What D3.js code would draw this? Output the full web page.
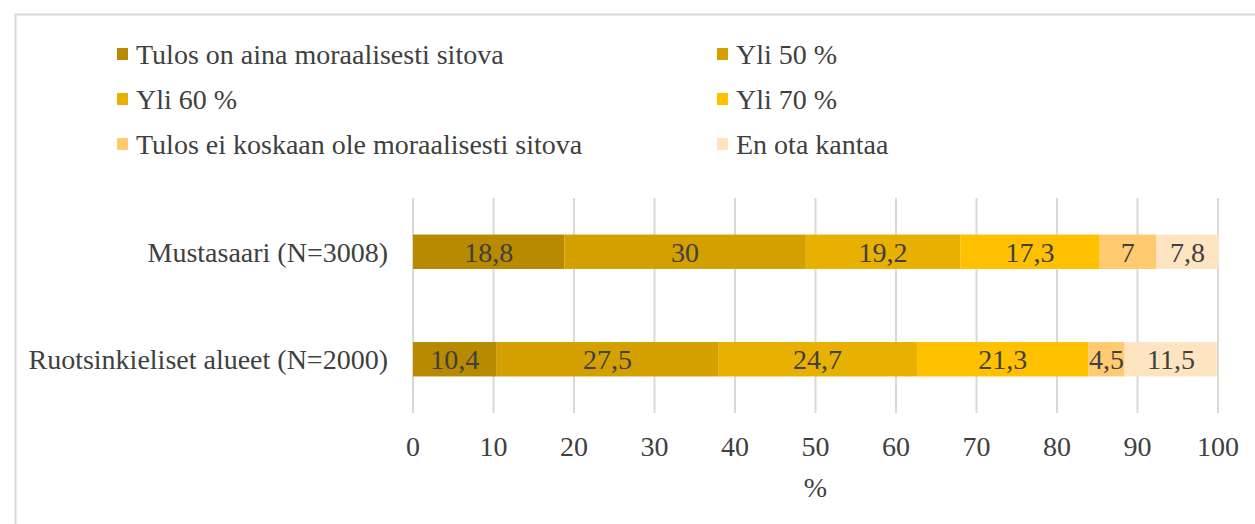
<!DOCTYPE html>
<html>
<head>
<meta charset="utf-8">
<script src="https://cdn.jsdelivr.net/npm/d3@7"></script>
<style>
  body { margin: 0; background: #fff; }
</style>
</head>
<body>
<svg class="chart"></svg>
<script>
/*Chart data*/
const categories = ["Mustasaari (N=3008)", "Ruotsinkieliset alueet (N=2000)"]
const seriesNames = [
  "Tulos on aina moraalisesti sitova", "Yli 50 %",
  "Yli 60 %", "Yli 70 %",
  "Tulos ei koskaan ole moraalisesti sitova", "En ota kantaa"
]
const mustasaari = [18.8, 30, 19.2, 17.3, 7, 7.8]
const ruotsinkieliset = [10.4, 27.5, 24.7, 21.3, 4.5, 11.5]
const xTicks = [0, 10, 20, 30, 40, 50, 60, 70, 80, 90, 100]
const colors = ["#B88A00", "#D4A000", "#E8B000", "#FFC000", "#FFCA70", "#FFE4C1"]

const width = 1255, height = 524
const fontSize = "28px"
const rows = [mustasaari, ruotsinkieliset]

var chart = d3.select(".chart")
    .attr("width", width)
    .attr("height", height)
    .attr("font-family", "'Liberation Serif', 'Times New Roman', Times, 'DejaVu Serif', serif")

/*Outer frame of the chart area*/
chart.append("rect")
    .attr("x", 15.5).attr("y", 14.5)
    .attr("width", width + 10).attr("height", height + 10)
    .attr("fill", "none")
    .attr("stroke", "#d9d9d9")
    .attr("stroke-width", 2)

var x = d3.scaleLinear().domain([0, 100]).range([413, 1218])
var y = d3.scaleBand().domain(categories).range([198, 413]).paddingInner(0.68).paddingOuter(0.34)

/*Gridlines*/
chart.append("g")
  .selectAll("line")
  .data(xTicks)
  .enter()
  .append("line")
    .attr("x1", d => x(d)).attr("x2", d => x(d))
    .attr("y1", 198).attr("y2", 413)
    .attr("stroke", "#d9d9d9")
    .attr("stroke-width", 2)

/*Stacked bars*/
rows.forEach((vals, i) => {
  var cum = 0
  var segs = vals.map((v, j) => {
    var s = { key: j, start: cum, value: v }
    cum += v
    return s
  })
  var g = chart.append("g")
  g.selectAll("rect")
    .data(segs)
    .enter()
    .append("rect")
      .attr("x", d => x(d.start))
      .attr("width", d => x(d.start + d.value) - x(d.start))
      .attr("y", y(categories[i]))
      .attr("height", y.bandwidth())
      .attr("fill", d => colors[d.key])
  g.selectAll("text")
    .data(segs)
    .enter()
    .append("text")
      .attr("x", d => x(d.start + d.value / 2))
      .attr("y", y(categories[i]) + y.bandwidth() / 2)
      .attr("dy", "0.35em")
      .attr("text-anchor", "middle")
      .attr("fill", "#404040")
      .style("font-size", fontSize)
      .text(d => String(d.value).replace(".", ","))
})

/*Category labels*/
chart.append("g")
  .selectAll("text")
  .data(categories)
  .enter()
  .append("text")
    .attr("x", 388)
    .attr("y", d => y(d) + y.bandwidth() / 2)
    .attr("dy", "0.35em")
    .attr("text-anchor", "end")
    .attr("fill", "#404040")
    .style("font-size", fontSize)
    .text(d => d)

/*X axis labels*/
chart.append("g")
  .selectAll("text")
  .data(xTicks)
  .enter()
  .append("text")
    .attr("x", d => x(d))
    .attr("y", 446)
    .attr("dy", "0.35em")
    .attr("text-anchor", "middle")
    .attr("fill", "#404040")
    .style("font-size", fontSize)
    .text(d => d)

chart.append("text")
    .attr("x", x(50))
    .attr("y", 487)
    .attr("dy", "0.35em")
    .attr("text-anchor", "middle")
    .attr("fill", "#404040")
    .style("font-size", fontSize)
    .text("%")

/*Legend, two columns*/
var legend = chart.append("g")
  .selectAll("g")
  .data(seriesNames)
  .enter()
  .append("g")
    .attr("transform", (d, i) => "translate(" + (i % 2 === 0 ? 117 : 717) + "," + (54 + Math.floor(i / 2) * 45) + ")")

legend.append("rect")
    .attr("x", 0).attr("y", -6)
    .attr("width", 11).attr("height", 12)
    .attr("fill", (d, i) => colors[i])

legend.append("text")
    .attr("x", 19)
    .attr("dy", "0.35em")
    .attr("fill", "#404040")
    .style("font-size", fontSize)
    .text(d => d)
</script>
</body>
</html>
